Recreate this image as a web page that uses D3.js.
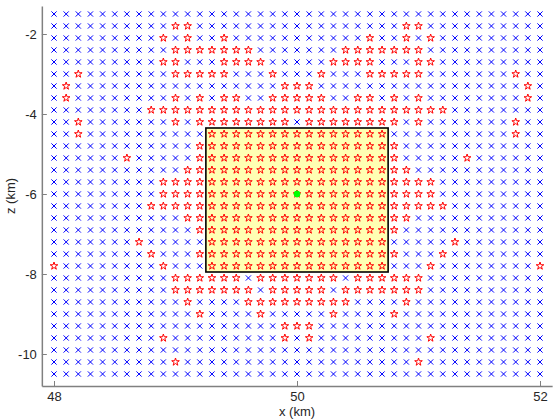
<!DOCTYPE html>
<html><head><meta charset="utf-8">
<script src="https://cdn.jsdelivr.net/npm/d3@7"></script>
<style>body{margin:0;background:#fff;} svg{display:block;}</style>
</head><body>
<svg id="chart" width="560" height="420"></svg>
<script>
// grid of tested positions
const xGrid = [48.0,48.1,48.2,48.3,48.4,48.5,48.6,48.7,48.8,48.9,49.0,49.1,49.2,49.3,49.4,49.5,49.6,49.7,49.8,49.9,50.0,50.1,50.2,50.3,50.4,50.5,50.6,50.7,50.8,50.9,51.0,51.1,51.2,51.3,51.4,51.5,51.6,51.7,51.8,51.9,52.0];
const zGrid = [-1.5,-1.8,-2.1,-2.4,-2.7,-3.0,-3.3,-3.6,-3.9,-4.2,-4.5,-4.8,-5.1,-5.4,-5.7,-6.0,-6.3,-6.6,-6.9,-7.2,-7.5,-7.8,-8.1,-8.4,-8.7,-9.0,-9.3,-9.6,-9.9,-10.2,-10.5];
// column indices (into xGrid) marked with a star, one list per row of zGrid
const starCols = [
  [],
  [10,11,29,30],
  [9,11,14,26,29,31],
  [10,11,12,13,14,15,16,24,25,26,27,28,29,30],
  [9,10,14,15,16,17,23,24,25,26,30,31],
  [2,10,11,12,13,14,18,22,26,27,28,29,30,38],
  [1,19,20,21,39],
  [1,10,12,14,15,18,19,20,21,22,25,26,28,30,39],
  [8,9,10,11,12,13,14,15,16,17,18,19,20,21,22,23,24,25,26,27,28,29,30,31,32],
  [2,10,12,13,14,15,16,17,18,19,21,22,23,24,25,26,27,28,30,38],
  [2,13,14,15,16,17,18,19,20,21,22,23,24,25,26,27,38],
  [12,13,14,15,16,17,18,19,20,21,22,23,24,25,26,27,28],
  [6,12,13,14,15,16,17,18,19,20,21,22,23,24,25,26,27,28,34],
  [11,12,13,14,15,16,17,18,19,20,21,22,23,24,25,26,27,28,29],
  [9,10,11,12,13,14,15,16,17,18,19,20,21,22,23,24,25,26,27,28,29,30,31],
  [9,10,11,12,13,14,15,16,17,18,19,20,21,22,23,24,25,26,27,28,29,30,31],
  [8,9,10,11,12,13,14,15,16,17,18,19,20,21,22,23,24,25,26,27,28,29,30,31,32],
  [11,12,13,14,15,16,17,18,19,20,21,22,23,24,25,26,27,28,29],
  [12,13,14,15,16,17,18,19,20,21,22,23,24,25,26,27,28],
  [7,13,14,15,16,17,18,19,20,21,22,23,24,25,26,27,33],
  [8,12,13,14,15,16,17,18,19,20,21,22,23,24,25,26,27,28,32],
  [0,9,13,14,15,16,17,18,19,20,21,22,23,24,25,26,27,31,40],
  [10,11,12,13,14,15,17,18,19,20,21,22,23,25,26,27,28,29,30],
  [10,11,12,13,14,15,16,18,19,20,21,22,24,25,26,27,28,29,30],
  [11,16,17,18,19,20,21,22,23,24,29],
  [12,17,23,28],
  [19,20,21],
  [9,19,21,31],
  [],
  [10,30],
  []
];
const boxX = [49.25, 50.75];
const boxZ = [-7.95, -4.35];
const source = [50.0, -6.0];
const xTicks = [48, 50, 52];
const zTicks = [-10, -8, -6, -4, -2];
const xDomain = [47.9, 52.1];
const zDomain = [-10.8, -1.3];

const svg = d3.select('#chart');
const x = d3.scaleLinear().domain(xDomain).range([41.85, 552.15]);
const y = d3.scaleLinear().domain(zDomain).range([386, 6]);
const font = 'Liberation Sans, Arial, Helvetica, sans-serif';

// box
svg.append('rect')
  .attr('x', x(boxX[0])).attr('y', y(boxZ[1]))
  .attr('width', x(boxX[1]) - x(boxX[0])).attr('height', y(boxZ[0]) - y(boxZ[1]))
  .attr('fill', '#ffffb3').attr('stroke', '#000').attr('stroke-width', 1.6);

// points
const pts = [];
zGrid.forEach((z, r) => {
  const s = new Set(starCols[r]);
  xGrid.forEach((xv, c) => pts.push({x: xv, z: z, star: s.has(c)}));
});

function pentagram(R) {
  const ri = R * 0.382; let p = '';
  for (let i = 0; i < 10; i++) {
    const a = -Math.PI / 2 + i * Math.PI / 5;
    const rr = i % 2 ? ri : R;
    p += (i ? 'L' : 'M') + (rr * Math.cos(a)).toFixed(2) + ',' + (rr * Math.sin(a)).toFixed(2);
  }
  return p + 'Z';
}
const starPath = pentagram(4);
const h = 2.6;
const crossPath = `M${-h},${-h}L${h},${h}M${-h},${h}L${h},${-h}`;

svg.append('g').selectAll('path').data(pts).join('path')
  .attr('transform', d => `translate(${x(d.x)},${y(d.z)})`)
  .attr('d', d => d.star ? starPath : crossPath)
  .attr('fill', 'none')
  .attr('stroke', d => d.star ? '#ff0000' : '#0000ff')
  .attr('stroke-width', 1);

// source
svg.append('circle').attr('cx', x(source[0])).attr('cy', y(source[1])).attr('r', 3)
  .attr('fill', '#00ff00').attr('stroke', '#00ff00');

// axes
const axCol = '#808080';
const gx = svg.append('g').attr('transform', `translate(0,${y(zDomain[0])})`)
  .call(d3.axisBottom(x).tickValues(xTicks).tickFormat(d3.format('d')).tickSizeInner(-5).tickSizeOuter(0).tickPadding(6));
const gy = svg.append('g').attr('transform', `translate(${x(xDomain[0])},0)`)
  .call(d3.axisLeft(y).tickValues(zTicks).tickFormat(d => d3.format('d')(d).replace('−','-')).tickSizeInner(-5).tickSizeOuter(0).tickPadding(5));
[gx, gy].forEach(g => {
  g.select('.domain').attr('stroke', axCol).attr('stroke-width', 1.5);
  g.selectAll('.tick line').attr('stroke', axCol);
  g.selectAll('.tick text').attr('fill', '#262626').attr('font-size', 13).attr('font-family', font);
});

svg.append('text').attr('x', (x(xDomain[0]) + x(xDomain[1])) / 2).attr('y', 416)
  .attr('text-anchor', 'middle').attr('font-size', 13).attr('font-family', font).attr('fill', '#262626').text('x (km)');
svg.append('text').attr('transform', `translate(15,${(y(zDomain[0]) + y(zDomain[1])) / 2}) rotate(-90)`)
  .attr('text-anchor', 'middle').attr('font-size', 13).attr('font-family', font).attr('fill', '#262626').text('z (km)');
</script>
</body></html>
